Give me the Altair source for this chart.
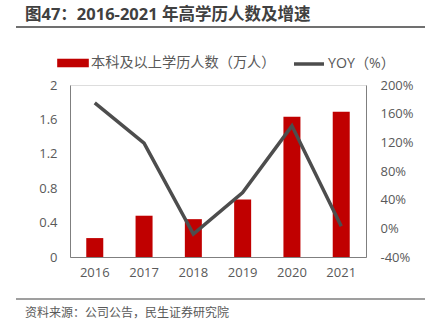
import altair as alt
import pandas as pd

years = ["2016", "2017", "2018", "2019", "2020", "2021"]
people = [0.22, 0.48, 0.44, 0.67, 1.63, 1.69]
yoy = [175, 119, -8, 50, 143, 3]

title_text = "图47：2016-2021 年高学历人数及增速"
source_text = "资料来源：公司公告，民生证券研究院"
bar_name = "本科及以上学历人数（万人）"
line_name = "YOY（%）"

df = pd.DataFrame({"year": years, "people": people, "yoy": yoy,
                   "bar_s": [bar_name] * 6, "line_s": [line_name] * 6})
one = pd.DataFrame({"a": [0]})

FONT = "Open Sans, Noto Sans CJK SC"
GRAY = "#595959"

x_enc = alt.X("year:N", title=None,
              scale=alt.Scale(paddingInner=0.655, paddingOuter=0.33),
              axis=alt.Axis(labelAngle=0, ticks=False, domainColor="#7f7f7f",
                            labelFontSize=13, labelColor=GRAY, labelPadding=9,
                            labelFont=FONT))

bars = alt.Chart(df).mark_bar(color="#c00000").encode(
    x=x_enc,
    y=alt.Y("people:Q", title=None,
            scale=alt.Scale(domain=[0, 2], nice=False),
            axis=alt.Axis(values=[0, 0.4, 0.8, 1.2, 1.6, 2], format="~g",
                          ticks=False, grid=False, domainColor="#7f7f7f",
                          labelFontSize=13, labelColor=GRAY, labelPadding=13,
                          labelFont=FONT)),
    fill=alt.Fill("bar_s:N", scale=alt.Scale(range=["#c00000"]),
                  legend=alt.Legend(title=None, orient="none", legendX=-13, legendY=-38,
                                    symbolType="M-1,-0.27H1V0.27H-1Z", symbolSize=1000,
                                    symbolStrokeWidth=0, labelFontSize=14.2, labelLimit=400,
                                    labelColor=GRAY, labelFont=FONT, labelOffset=2)),
)

line = alt.Chart(df).mark_line(color="#4d4d4d", strokeWidth=3.5).encode(
    x=x_enc,
    y=alt.Y("yoy:Q", title=None,
            scale=alt.Scale(domain=[-40, 200], nice=False),
            axis=alt.Axis(orient="right", values=[-40, 0, 40, 80, 120, 160, 200],
                          labelExpr="datum.value + '%'",
                          ticks=False, grid=False, domainColor="#7f7f7f",
                          labelFontSize=13, labelColor=GRAY, labelPadding=14,
                          labelFont=FONT)),
    stroke=alt.Stroke("line_s:N", scale=alt.Scale(range=["#4d4d4d"]),
                      legend=alt.Legend(title=None, orient="none", legendX=222, legendY=-38,
                                        symbolType="stroke", symbolSize=900, labelLimit=400,
                                        symbolStrokeWidth=3.5, labelFontSize=14.2,
                                        labelColor=GRAY, labelFont=FONT, labelOffset=2)),
)

main = alt.layer(bars, line).resolve_scale(y="independent", fill="independent", stroke="independent")

title = alt.Chart(one).mark_text(text=title_text, font=FONT, fontSize=16.5, fontWeight="bold",
                                 color="#404040", align="left", baseline="middle").encode(
    x=alt.value(-45), y=alt.value(-70))
top_line = alt.Chart(one).mark_rule(color="#404040", strokeWidth=1.5).encode(
    x=alt.value(-54), x2=alt.value(355), y=alt.value(-58))
bottom_line = alt.Chart(one).mark_rule(color="#7f7f7f", strokeWidth=1.5).encode(
    x=alt.value(-54), x2=alt.value(355), y=alt.value(214))
source = alt.Chart(one).mark_text(text=source_text, font=FONT, fontSize=12,
                                  color=GRAY, align="left", baseline="middle").encode(
    x=alt.value(-45), y=alt.value(228))

chart = alt.layer(main, title, top_line, bottom_line, source).properties(
    width=296, height=172,
    autosize=alt.AutoSizeParams(type="none"),
    padding={"left": 70, "top": 85, "right": 63, "bottom": 77},
).configure_view(stroke=None).configure(background="white")

chart.save("out.html", embed_options={"renderer": "svg", "actions": False})
